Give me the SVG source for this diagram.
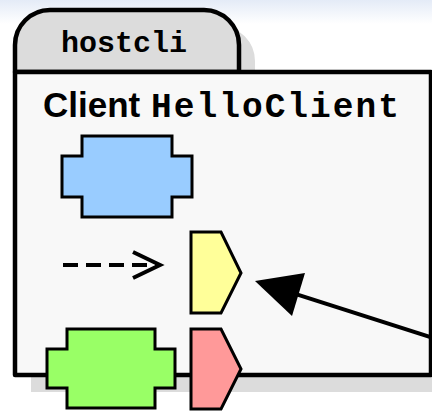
<svg xmlns="http://www.w3.org/2000/svg" width="432" height="411" viewBox="0 0 432 411">
  <defs>
    <linearGradient id="band" x1="0" y1="0" x2="0" y2="1">
      <stop offset="0" stop-color="#e4ebf7"/>
      <stop offset="1" stop-color="#ffffff"/>
    </linearGradient>
  </defs>
  <style>
    .frame { stroke: #000; stroke-width: 4.5; stroke-linejoin: round; }
    .shadow { fill: #dcdcdc; }
    .port { stroke: #000; stroke-width: 3; stroke-linejoin: miter; }
    .mono { font-family: "Liberation Mono", "DejaVu Sans Mono", monospace; font-weight: bold; fill: #000; }
    .sans { font-family: "Liberation Sans", Arial, sans-serif; font-weight: bold; fill: #000; }
  </style>

  <rect x="0" y="0" width="432" height="24" fill="url(#band)"/>

  <!-- host container -->
  <g id="hostcli">
    <path class="shadow" d="M31,88 V61 A35,35 0 0 1 66,26 H220 A35,35 0 0 1 255,61 V88 H447 V392 H31 Z"/>
    <path class="frame" fill="#dcdcdc" d="M15,72 V45 A35,35 0 0 1 50,10 H204 A35,35 0 0 1 239,45 V72 Z"/>
    <rect class="frame" x="15" y="72" width="416" height="303" fill="#f8f8f8"/>
    <text class="mono" x="124" y="52" font-size="30" text-anchor="middle" textLength="126" lengthAdjust="spacing">hostcli</text>
    <text class="sans" x="43" y="117" font-size="35">Client</text>
    <text class="mono" x="151" y="117" font-size="34.5" textLength="248" lengthAdjust="spacing">HelloClient</text>
  </g>

  <g id="blue-part">
    <polygon class="port" fill="#99ccff" points="82,136 172,136 172,156 192,156 192,197 172,197 172,217 82,217 82,197 62,197 62,156 82,156"/>
  </g>

  <g id="yellow-port">
    <polygon class="port" fill="#ffff99" points="191,232 221,232 241,273 221,313 191,313"/>
  </g>

  <g id="green-part">
    <polygon class="port" fill="#99ff66" points="67,329 155,329 155,349 175,349 175,388 155,388 155,408 67,408 67,388 47,388 47,349 67,349"/>
  </g>

  <g id="red-port">
    <polygon class="port" fill="#ff9999" points="191,329 221,329 241,369 221,409 191,409"/>
  </g>

  <g id="connectors" fill="none" stroke="#000" stroke-width="4">
    <path d="M63,265 H158" stroke-dasharray="15 8"/>
    <path d="M133,252 L160,265 L133,278" stroke-linejoin="miter"/>
    <line x1="432" y1="337.5" x2="296" y2="294.2"/>
    <polygon points="255,281 305,273 292,316" fill="#000" stroke="none"/>
  </g>
</svg>
